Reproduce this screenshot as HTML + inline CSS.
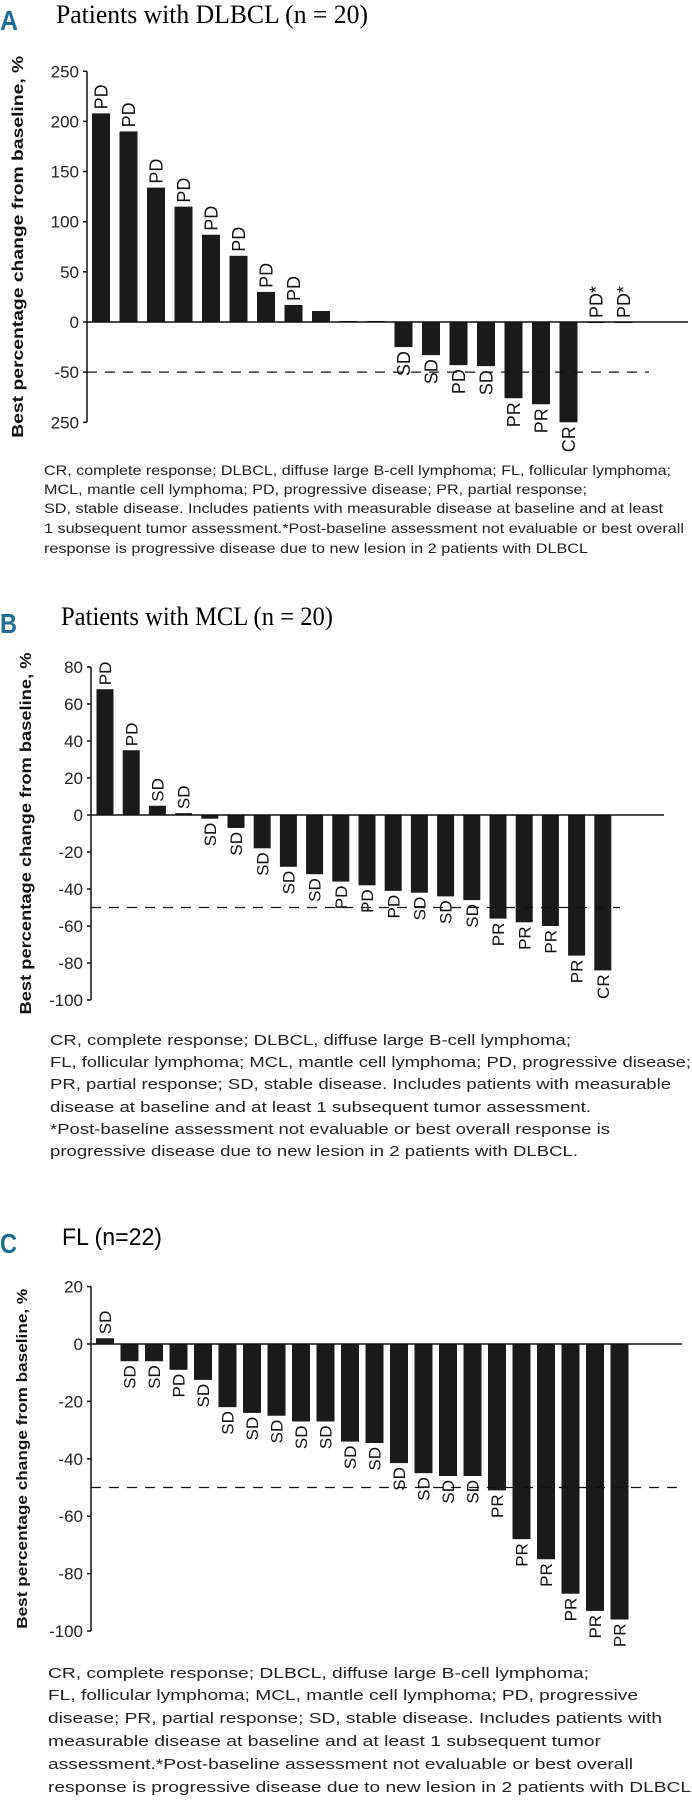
<!DOCTYPE html>
<html><head><meta charset="utf-8">
<style>
html,body{margin:0;padding:0;background:#fff;}
svg{display:block;}
text{font-family:"Liberation Sans",sans-serif;}
</style></head>
<body>
<svg id="fig" width="692" height="1800" viewBox="0 0 692 1800" xmlns="http://www.w3.org/2000/svg">
  <text x="0" y="30" font-size="28" font-weight="bold" fill="#1c6d98" textLength="18" lengthAdjust="spacingAndGlyphs">A</text>
  <text x="56" y="23" font-size="26" style="font-family:'Liberation Serif',serif" textLength="312" lengthAdjust="spacingAndGlyphs">Patients with DLBCL (n = 20)</text>
  <text x="0" y="633" font-size="28" font-weight="bold" fill="#1c6d98" textLength="17" lengthAdjust="spacingAndGlyphs">B</text>
  <text x="61" y="625" font-size="26" style="font-family:'Liberation Serif',serif" textLength="272" lengthAdjust="spacingAndGlyphs">Patients with MCL (n = 20)</text>
  <text x="0" y="1253" font-size="28" font-weight="bold" fill="#1c6d98" textLength="17" lengthAdjust="spacingAndGlyphs">C</text>
  <text x="62" y="1245" font-size="24" textLength="100" lengthAdjust="spacingAndGlyphs">FL (n=22)</text>
  <g id="charts"></g>
  <g id="captions"></g>
</svg>
<script>
// ---- Panel A data (DLBCL) ----
const aValues = [208, 190, 134, 115, 87, 66, 30, 17, 11, 1, 1, -25, -33, -43, -44, -76, -82, -100, 0, 0];
const aLabels = ["PD","PD","PD","PD","PD","PD","PD","PD","","","","SD","SD","PD","SD","PR","PR","CR","PD*","PD*"];
const aTicks = [250, 200, 150, 100, 50, 0, -50, -100];
const aTickLabels = ["250","200","150","100","50","0","-50","250"];
// ---- Panel B data (MCL) ----
const bValues = [68, 35, 5, 1, -2, -7, -18, -28, -32, -36, -38, -41, -42, -44, -46, -56, -58, -60, -76, -84];
const bLabels = ["PD","PD","SD","SD","SD","SD","SD","SD","SD","PD","PD","PD","SD","SD","SD","PR","PR","PR","PR","CR"];
const bTicks = [80, 60, 40, 20, 0, -20, -40, -60, -80, -100];
const bTickLabels = ["80","60","40","20","0","-20","-40","-60","-80","-100"];
// ---- Panel C data (FL) ----
const cValues = [2, -6, -6, -9, -12.5, -22, -24, -25, -27, -27, -34, -34.5, -41.5, -45, -46, -46, -51, -68, -75, -87, -93, -96];
const cLabels = ["SD","SD","SD","PD","SD","SD","SD","SD","SD","SD","SD","SD","SD","SD","SD","SD","PR","PR","PR","PR","PR","PR"];
const cTicks = [20, 0, -20, -40, -60, -80, -100];
const cTickLabels = ["20","0","-20","-40","-60","-80","-100"];
const threshold = -50;

const NS = "http://www.w3.org/2000/svg";
function mk(tag, attrs, parent){
  const e = document.createElementNS(NS, tag);
  for (const k in attrs) e.setAttribute(k, attrs[k]);
  parent.appendChild(e);
  return e;
}

function drawPanel(id, cfg, values, labels, ticks, tickLabels){
  const g = mk("g", {}, document.getElementById("charts"));
  
  
  const y = v => cfg.y0 - (v) * cfg.k;
  const x = i => cfg.x0 + i * cfg.step;
  const ax = mk("line", {x1:cfg.ax, x2:cfg.ax, y1:y(cfg.max), y2:y(cfg.min), stroke:"#111", "stroke-width":1.5}, g);
  
  
  ticks.forEach((t, i) => {
    const tk = mk("line", {x1:cfg.ax-4, x2:cfg.ax, y1:y(t), y2:y(t), stroke:"#111", "stroke-width":1.5}, g);
    
    
    const tl = mk("text", {x:cfg.ax-8, y:y(t)+6, "font-size":cfg.tickFont, "text-anchor":"end", fill:"#222"}, g);
    tl.textContent = tickLabels[i];
    
    
  });
  const cy = (y(cfg.max) + y(cfg.min)) / 2;
  const yt = mk("text", {x:0, y:0, "font-size":cfg.titleFont, "font-weight":"bold", "text-anchor":"middle",
    transform:`translate(${cfg.titleX},${cy}) rotate(-90)`, textLength:cfg.titleLen, lengthAdjust:"spacingAndGlyphs", fill:"#111"}, g);
  yt.textContent = "Best percentage change from baseline, %";
  
  
  values.forEach((v, i) => {
    const top = Math.min(y(v), y(0)), h = Math.abs(y(v) - y(0));
    const r = mk("rect", {x:x(i)-cfg.bw/2, y:top, width:cfg.bw, height:Math.max(h,1), fill:"#1a1a1a"}, g);
    
    
    if (labels[i]) {
      const lx = x(i) + cfg.labFont*0.36;
      let t;
      if (v > 0 || labels[i].indexOf('*') >= 0) {
        const ly = y(Math.max(v,0)) - 4;
        t = mk("text", {x:0, y:0, "font-size":cfg.labFont, "text-anchor":"start", transform:`translate(${lx},${ly}) rotate(-90)`, fill:"#111"}, g);
      } else {
        const ly = y(v) + 4;
        t = mk("text", {x:0, y:0, "font-size":cfg.labFont, "text-anchor":"end", transform:`translate(${lx},${ly}) rotate(-90)`, fill:"#111"}, g);
      }
      t.textContent = labels[i];
      
      
    }
  });
  const bl = mk("line", {x1:cfg.ax, x2:cfg.baseEnd, y1:y(0), y2:y(0), stroke:"#111", "stroke-width":1.5}, g);
  
  
  const dl = mk("line", {x1:cfg.ax, x2:cfg.dashEnd, y1:y(threshold), y2:y(threshold), stroke:"#111", "stroke-width":1.3, "stroke-dasharray":"10,8"}, g);
  
  
}

drawPanel("panel-a", {y0:322, k:1.003, ax:87, x0:101, step:27.5, bw:18, max:250, min:-100, baseEnd:688, dashEnd:649,
  tickFont:17, titleFont:16, titleX:23, titleLen:382, labFont:18}, aValues, aLabels, aTicks, aTickLabels);
drawPanel("panel-b", {y0:815, k:1.85, ax:91, x0:105, step:26.2, bw:17, max:80, min:-100, baseEnd:664, dashEnd:620,
  tickFont:17, titleFont:16, titleX:31, titleLen:362, labFont:17}, bValues, bLabels, bTicks, bTickLabels);
drawPanel("panel-c", {y0:1344, k:2.87, ax:91, x0:105, step:24.5, bw:18, max:20, min:-100, baseEnd:682, dashEnd:682,
  tickFont:17, titleFont:15, titleX:27, titleLen:340, labFont:17}, cValues, cLabels, cTicks, cTickLabels);

const caps = [
  {id:"panel-a-caption", x:44, size:14, lines:[
    ["CR, complete response; DLBCL, diffuse large B-cell lymphoma; FL, follicular lymphoma;",475,627],
    ["MCL, mantle cell lymphoma; PD, progressive disease; PR, partial response;",494,543],
    ["SD, stable disease. Includes patients with measurable disease at baseline and at least",513,619],
    ["1 subsequent tumor assessment.*Post-baseline assessment not evaluable or best overall",533,640],
    ["response is progressive disease due to new lesion in 2 patients with DLBCL",553,544]]},
  {id:"panel-b-caption", x:50, size:15, lines:[
    ["CR, complete response; DLBCL, diffuse large B-cell lymphoma;",1045,521],
    ["FL, follicular lymphoma; MCL, mantle cell lymphoma; PD, progressive disease;",1067,641],
    ["PR, partial response; SD, stable disease. Includes patients with measurable",1089,621],
    ["disease at baseline and at least 1 subsequent tumor assessment.",1112,541],
    ["*Post-baseline assessment not evaluable or best overall response is",1134,560],
    ["progressive disease due to new lesion in 2 patients with DLBCL.",1156,528]]},
  {id:"panel-c-caption", x:48, size:15, lines:[
    ["CR, complete response; DLBCL, diffuse large B-cell lymphoma;",1678,541],
    ["FL, follicular lymphoma; MCL, mantle cell lymphoma; PD, progressive",1700,590],
    ["disease; PR, partial response; SD, stable disease. Includes patients with",1723,614],
    ["measurable disease at baseline and at least 1 subsequent tumor",1746,553],
    ["assessment.*Post-baseline assessment not evaluable or best overall",1769,585],
    ["response is progressive disease due to new lesion in 2 patients with DLBCL",1792,643]]}
];
const cg = document.getElementById("captions");
caps.forEach(c => {
  const g = mk("g", {}, cg);
  
  
  c.lines.forEach(l => {
    const t = mk("text", {x:c.x, y:l[1], "font-size":c.size, fill:"#222", textLength:l[2], lengthAdjust:"spacingAndGlyphs"}, g);
    t.textContent = l[0];
    
    
  });
});
</script>
</body></html>
